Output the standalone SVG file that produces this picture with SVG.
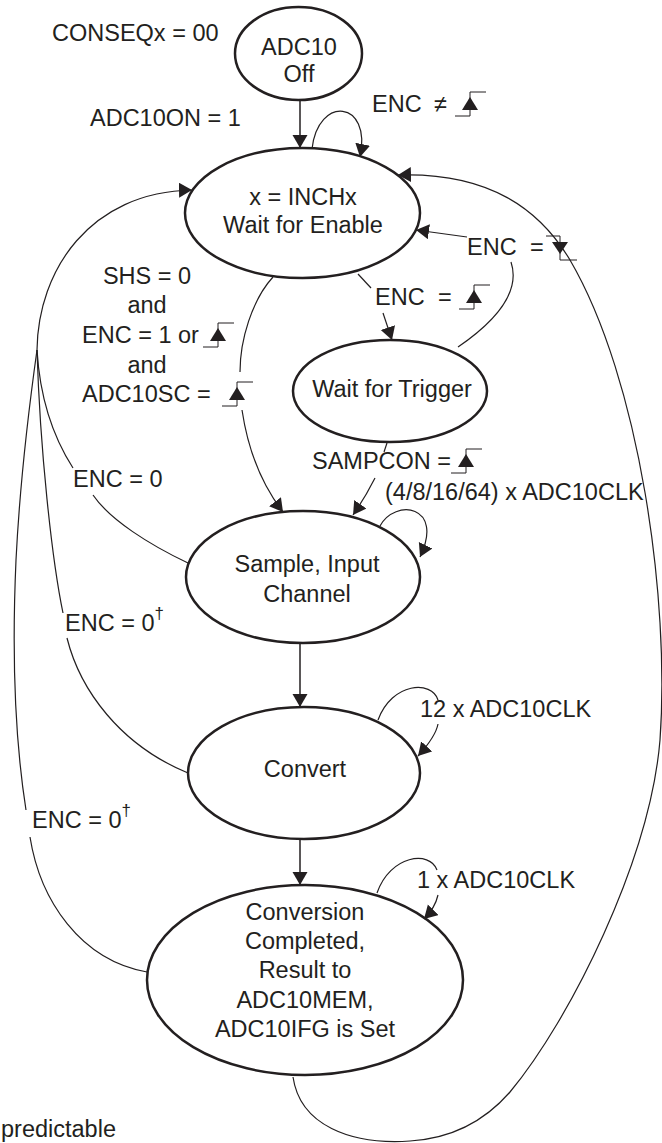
<svg xmlns="http://www.w3.org/2000/svg" width="662" height="1143" viewBox="0 0 662 1143">
<style>
text{font-family:"Liberation Sans",Arial,sans-serif;font-size:23.5px;fill:#231f20}
.node{fill:none;stroke:#231f20;stroke-width:2.5}
.c{fill:none;stroke:#231f20;stroke-width:1.2}
.v{fill:none;stroke:#231f20;stroke-width:1.5}
.mid{text-anchor:middle}
</style>
<defs>
<marker id="ah" markerUnits="userSpaceOnUse" markerWidth="16" markerHeight="16" refX="13" refY="7.5" orient="auto">
<path d="M0,0 L13,7.5 L0,15 z" fill="#231f20"/>
</marker>
<g id="rise">
<path d="M-15,4 H0 V-20 H16" fill="none" stroke="#231f20" stroke-width="1"/>
<path d="M-8,-2 L8,-2 L0,-15 z" fill="#231f20"/>
</g>
<g id="fall">
<path d="M-14,-19 H0 V5 H17" fill="none" stroke="#231f20" stroke-width="1"/>
<path d="M-8,-13 L8,-13 L0,-1 z" fill="#231f20"/>
</g>
</defs>

<g id="connectors">
<path class="v" d="M300,100 V148" marker-end="url(#ah)"/>
<path class="c" d="M312,149 C318,95 372,100 360,157" marker-end="url(#ah)"/>
<path class="c" d="M358,274 L371,288"/>
<path class="c" d="M383,313 L392,340" marker-end="url(#ah)"/>
<path class="c" d="M458,347 C490,325 522,295 511,262"/>
<path class="c" d="M467,237 L416,230" marker-end="url(#ah)"/>
<path class="c" d="M273,277 C252,300 240,340 240,372"/>
<path class="c" d="M242,410 C248,450 262,485 283,512" marker-end="url(#ah)"/>
<path class="c" d="M387,443 L384,452"/>
<path class="c" d="M375,478 C368,492 362,502 353,515" marker-end="url(#ah)"/>
<path class="c" d="M380,526 C395,498 445,505 420,557" marker-end="url(#ah)"/>
<path class="v" d="M300,643 V707" marker-end="url(#ah)"/>
<path class="c" d="M378,720 C392,682 432,680 438,700"/>
<path class="c" d="M438,724 C436,735 428,745 418,756" marker-end="url(#ah)"/>
<path class="v" d="M300,840 V885" marker-end="url(#ah)"/>
<path class="c" d="M377,893 C390,855 430,850 437,870"/>
<path class="c" d="M438,895 C436,904 432,911 424,919" marker-end="url(#ah)"/>
<path class="c" d="M293,1077 C300,1125 350,1145 410,1141 C460,1138 490,1115 510,1092 C570,1020 650,860 660,740 C670,600 640,380 570,260 C540,210 490,172 398,175" marker-end="url(#ah)"/>
<path class="c" d="M37,350 C38,270 90,192 192,190" marker-end="url(#ah)"/>
<path class="c" d="M188,563 C150,545 110,520 93,495"/>
<path class="c" d="M73,468 C55,440 40,400 37,350"/>
<path class="c" d="M188,773 C120,745 80,690 67,638"/>
<path class="c" d="M63,613 C52,560 40,450 37,350"/>
<path class="c" d="M147,972 C80,960 40,900 30,837"/>
<path class="c" d="M26,810 C15,740 12,650 16,560 C20,480 30,400 37,350"/>
</g>

<g id="labels">
<text x="52" y="41">CONSEQx = 00</text>
<text x="90" y="126">ADC10ON = 1</text>
<text x="372" y="112">ENC</text>
<text x="434" y="112">≠</text>
<use href="#rise" x="470" y="112"/>
<text x="375" y="305">ENC</text>
<text x="438" y="305">=</text>
<use href="#rise" x="474" y="305"/>
<text x="467" y="255">ENC</text>
<text x="530" y="255">=</text>
<use href="#fall" x="560" y="255"/>
<text class="mid" x="147" y="284">SHS = 0</text>
<text class="mid" x="147" y="313">and</text>
<text x="82" y="343">ENC = 1 or</text>
<use href="#rise" x="218" y="343"/>
<text class="mid" x="147" y="373">and</text>
<text x="82" y="402">ADC10SC =</text>
<use href="#rise" x="237" y="402"/>
<text x="312" y="469">SAMPCON =</text>
<use href="#rise" x="466" y="469"/>
<text x="385" y="500">(4/8/16/64) x ADC10CLK</text>
<text x="73" y="487">ENC = 0</text>
<text x="65" y="631">ENC = 0<tspan dy="-12" font-size="17">†</tspan></text>
<text x="420" y="717">12 x ADC10CLK</text>
<text x="32" y="828">ENC = 0<tspan dy="-12" font-size="17">†</tspan></text>
<text x="417" y="888">1 x ADC10CLK</text>
<text x="1" y="1137">predictable</text>
</g>

<g id="n_off">
<ellipse class="node" cx="298.5" cy="53.5" rx="63.5" ry="46.5"/>
<text class="mid" x="299" y="55">ADC10</text>
<text class="mid" x="299" y="82">Off</text>
</g>
<g id="n_enable">
<ellipse class="node" cx="302.5" cy="213" rx="117.5" ry="65"/>
<text class="mid" x="303" y="205">x = INCHx</text>
<text class="mid" x="303" y="233">Wait for Enable</text>
</g>
<g id="n_trigger">
<ellipse class="node" cx="390" cy="391" rx="97" ry="51"/>
<text class="mid" x="392" y="397">Wait for Trigger</text>
</g>
<g id="n_sample">
<ellipse class="node" cx="303" cy="577" rx="117" ry="66"/>
<text class="mid" x="307" y="572">Sample, Input</text>
<text class="mid" x="307" y="602">Channel</text>
</g>
<g id="n_convert">
<ellipse class="node" cx="304" cy="773" rx="116" ry="66"/>
<text class="mid" x="305" y="777">Convert</text>
</g>
<g id="n_complete">
<ellipse class="node" cx="305" cy="980" rx="158" ry="95"/>
<text class="mid" x="305" y="920">Conversion</text>
<text class="mid" x="305" y="949">Completed,</text>
<text class="mid" x="305" y="978">Result to</text>
<text class="mid" x="305" y="1008">ADC10MEM,</text>
<text class="mid" x="305" y="1037">ADC10IFG is Set</text>
</g>
</svg>
